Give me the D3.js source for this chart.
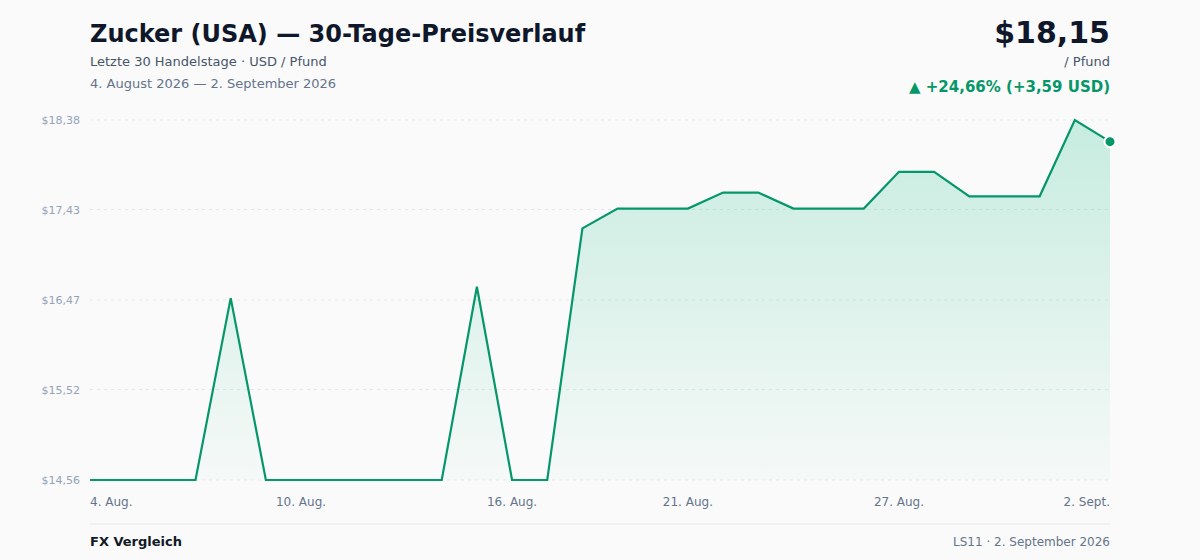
<!DOCTYPE html>
<html>
<head>
<meta charset="utf-8">
<script src="https://cdn.jsdelivr.net/npm/d3@7"></script>
<style>
  html, body { margin: 0; padding: 0; background: #fafafa; }
  svg { display: block; font-family: "DejaVu Sans", sans-serif; }
</style>
</head>
<body>
<div class="chartWrap"></div>
<script>
// 30 Handelstage, Kalendertage ab 4. August 2026
var dayLabels = ['4. Aug.', '5. Aug.', '6. Aug.', '7. Aug.', '8. Aug.', '9. Aug.', '10. Aug.', '11. Aug.', '12. Aug.', '13. Aug.',
  '14. Aug.', '15. Aug.', '16. Aug.', '17. Aug.', '18. Aug.', '19. Aug.', '20. Aug.', '21. Aug.', '22. Aug.', '23. Aug.',
  '24. Aug.', '25. Aug.', '26. Aug.', '27. Aug.', '28. Aug.', '29. Aug.', '30. Aug.', '31. Aug.', '1. Sept.', '2. Sept.'];
var prices = [14.56, 14.56, 14.56, 14.56, 16.49, 14.56, 14.56, 14.56, 14.56, 14.56,
  14.56, 16.61, 14.56, 14.56, 17.23, 17.44, 17.44, 17.44, 17.61, 17.61,
  17.44, 17.44, 17.44, 17.83, 17.83, 17.57, 17.57, 17.57, 18.38, 18.15];
var xTickIndex = [0, 6, 12, 17, 23, 29];
var yTicks = [14.56, 15.52, 16.47, 17.43, 18.38];

var chart = {
  width: 1200, height: 560,
  left: 90, right: 1110, plotTop: 120, plotBottom: 480
};
var green = '#059669';

var fmt = function(v){ return v.toFixed(2).replace('.', ','); };

var svg = d3.select('.chartWrap')
  .append('svg')
  .attr('width', chart.width)
  .attr('height', chart.height);

svg.append('rect')
  .attr('width', chart.width)
  .attr('height', chart.height)
  .attr('fill', '#fafafa');

var x = d3.scaleLinear().domain([0, prices.length - 1]).range([chart.left, chart.right]);
var y = d3.scaleLinear().domain([d3.min(prices), d3.max(prices)]).range([chart.plotBottom, chart.plotTop]);

// gradient for the area
var grad = svg.append('defs').append('linearGradient')
  .attr('id', 'areaGrad')
  .attr('gradientUnits', 'userSpaceOnUse')
  .attr('x1', 0).attr('y1', chart.plotTop)
  .attr('x2', 0).attr('y2', chart.plotBottom);
grad.append('stop').attr('offset', '0%').attr('stop-color', '#10b981').attr('stop-opacity', 0.22);
grad.append('stop').attr('offset', '100%').attr('stop-color', '#10b981').attr('stop-opacity', 0.02);

// grid + y labels
svg.append('g')
  .selectAll('line')
  .data(yTicks)
  .enter()
    .append('line')
    .attr('x1', chart.left)
    .attr('x2', chart.right)
    .attr('y1', function(d){ return y(d); })
    .attr('y2', function(d){ return y(d); })
    .attr('stroke', '#e5e7eb')
    .attr('stroke-width', 1)
    .attr('stroke-dasharray', '3,4');

svg.append('g')
  .selectAll('text')
  .data(yTicks)
  .enter()
    .append('text')
    .attr('x', 80)
    .attr('y', function(d){ return y(d) + 4; })
    .attr('text-anchor', 'end')
    .style('font-size', '11px')
    .style('fill', '#94a3b8')
    .text(function(d){ return '$' + fmt(d); });

// area + line
var area = d3.area()
  .x(function(d, i){ return x(i); })
  .y0(chart.plotBottom)
  .y1(function(d){ return y(d); });

var line = d3.line()
  .x(function(d, i){ return x(i); })
  .y(function(d){ return y(d); });

svg.append('path')
  .datum(prices)
  .attr('d', area)
  .attr('fill', 'url(#areaGrad)');

svg.append('path')
  .datum(prices)
  .attr('d', line)
  .attr('fill', 'none')
  .attr('stroke', green)
  .attr('stroke-width', 2.2)
  .attr('stroke-linejoin', 'miter');

var last = prices.length - 1;
svg.append('circle')
  .attr('cx', x(last))
  .attr('cy', y(prices[last]))
  .attr('r', 5.5)
  .attr('fill', green)
  .attr('stroke', '#ffffff')
  .attr('stroke-width', 2);

// x labels
svg.append('g')
  .selectAll('text')
  .data(xTickIndex)
  .enter()
    .append('text')
    .attr('x', function(d){ return x(d); })
    .attr('y', 506)
    .attr('text-anchor', function(d, i){
      if (i == 0) return 'start';
      if (i == xTickIndex.length - 1) return 'end';
      return 'middle';
    })
    .style('font-size', '12px')
    .style('fill', '#64748b')
    .text(function(d){ return dayLabels[d]; });

// header
svg.append('text')
  .attr('x', chart.left).attr('y', 42)
  .style('font-size', '24px').style('font-weight', 'bold').style('fill', '#0f172a')
  .text('Zucker (USA) — 30-Tage-Preisverlauf');
svg.append('text')
  .attr('x', chart.left).attr('y', 66)
  .style('font-size', '13px').style('fill', '#475569')
  .text('Letzte 30 Handelstage · USD / Pfund');
svg.append('text')
  .attr('x', chart.left).attr('y', 88)
  .style('font-size', '13px').style('fill', '#64748b')
  .text('4. August 2026 — 2. September 2026');

var change = prices[last] - prices[0];
var pct = change / prices[0] * 100;

svg.append('text')
  .attr('x', chart.right).attr('y', 43)
  .attr('text-anchor', 'end')
  .style('font-size', '30px').style('font-weight', 'bold').style('fill', '#0f172a')
  .text('$' + fmt(prices[last]));
svg.append('text')
  .attr('x', chart.right).attr('y', 66)
  .attr('text-anchor', 'end')
  .style('font-size', '13px').style('fill', '#475569')
  .text('/ Pfund');
svg.append('text')
  .attr('x', chart.right).attr('y', 92)
  .attr('text-anchor', 'end')
  .style('font-size', '15px').style('font-weight', 'bold').style('fill', green)
  .text('▲ +' + fmt(pct) + '% (+' + fmt(change) + ' USD)');

// footer
svg.append('line')
  .attr('x1', chart.left).attr('x2', chart.right)
  .attr('y1', 524).attr('y2', 524)
  .attr('stroke', '#e5e7eb').attr('stroke-width', 1);
svg.append('text')
  .attr('x', chart.left).attr('y', 546)
  .style('font-size', '13px').style('font-weight', 'bold').style('fill', '#111827')
  .text('FX Vergleich');
svg.append('text')
  .attr('x', chart.right).attr('y', 546)
  .attr('text-anchor', 'end')
  .style('font-size', '12px').style('fill', '#64748b')
  .text('LS11 · 2. September 2026');
</script>
</body>
</html>
